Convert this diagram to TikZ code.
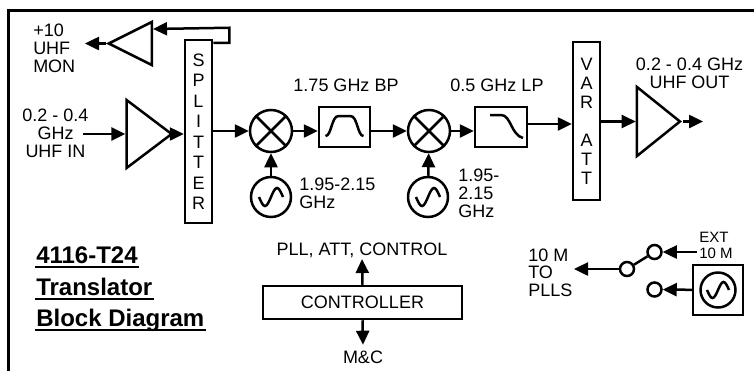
\documentclass[tikz,border=0pt]{standalone}
\usepackage{fontspec}
\setmainfont{Liberation Sans}
\usetikzlibrary{arrows.meta,shapes.geometric}

\begin{document}
\begin{tikzpicture}[x=1pt,y=-1pt,line width=2.5pt,
  >={Triangle[length=14pt,width=13pt]},
  txt/.style={inner sep=0pt,font=\fontsize{18}{18}\selectfont},
  blk/.style={draw,rectangle,inner sep=0pt},
  mixer/.style={draw,circle,minimum size=42pt,inner sep=0pt},
  lo/.style={draw,circle,minimum size=40pt,inner sep=0pt},
  port/.style={draw,circle,minimum size=14pt,inner sep=0pt},
  amp/.style={draw,isosceles triangle,isosceles triangle stretches,inner sep=0pt},
  heading/.style={inner sep=0pt,anchor=base west,font=\fontsize{24}{24}\selectfont\bfseries}]

  \useasboundingbox (0,0) rectangle (754,370);
  \draw[line width=3pt] (8,380) -- (8,10) -- (770,10);

  % input and monitor
  \node (ampin) at (143.5,134) [amp,minimum width=68pt,minimum height=45pt] {};
  \node[txt,align=center] (inlbl) at (55.5,133) {0.2 - 0.4\\GHz\\UHF IN};
  \coordinate (inarr) at (83,134);
  \node (split) at (198.5,131.5) [blk,minimum width=27pt,minimum height=183pt,align=center,font=\fontsize{18}{20.5}\selectfont] {S\\P\\L\\I\\T\\T\\E\\R};
  \node (ampmon) at (138.5,43.5) [amp,shape border rotate=180,minimum width=43pt,minimum height=43pt] {};
  \node[txt,align=left,anchor=west] (monlbl) at (32,48) {+10\\UHF\\MON};
  \coordinate (monout) at (85,43.5);

  % conversion chain
  \node (mix1) at (271,131) [mixer] {};
  \node (lo1) at (271,197) [lo] {};
  \node[txt,align=left,anchor=west] (lo1lbl) at (298,193.5) {1.95-2.15\\GHz};
  \node (bp) at (344.5,127) [blk,minimum width=51pt,minimum height=40pt] {};
  \node[txt] (bplbl) at (346,85) {1.75 GHz BP};
  \node (mix2) at (429,131) [mixer] {};
  \node (lo2) at (428,197) [lo] {};
  \node[txt,align=left,anchor=west] (lo2lbl) at (457,193.5) {1.95-\\2.15\\GHz};
  \node (lp) at (501,127) [blk,minimum width=52pt,minimum height=40pt] {};
  \node[txt] (lplbl) at (497,85) {0.5 GHz LP};
  \node (att) at (586.5,121) [blk,minimum width=27pt,minimum height=158pt,align=center,font=\fontsize{18}{19}\selectfont] {V\\A\\R\\[19pt]A\\T\\T};
  \node (ampout) at (653.5,121.5) [amp,minimum width=69pt,minimum height=43pt] {};
  \node[txt,align=center] (outlbl) at (689.5,73) {0.2 - 0.4 GHz\\UHF OUT};
  \coordinate (uhfout) at (703,121.5);

  \draw (mix1.north east) -- (mix1.south west) (mix1.north west) -- (mix1.south east);
  \draw (mix2.north east) -- (mix2.south west) (mix2.north west) -- (mix2.south east);
  \draw ([xshift=-12pt]lo1.center) sin ++(6pt,-9pt) cos ++(6pt,9pt) sin ++(6pt,9pt) cos ++(6pt,-9pt);
  \draw ([xshift=-12pt]lo2.center) sin ++(6pt,-9pt) cos ++(6pt,9pt) sin ++(6pt,9pt) cos ++(6pt,-9pt);
  \draw ([shift={(-19pt,-9pt)}]bp.center) .. controls ([shift={(-13pt,-9pt)}]bp.center) and ([shift={(-13pt,11pt)}]bp.center) .. ([shift={(-6pt,11pt)}]bp.center)
    -- ([shift={(6pt,11pt)}]bp.center) .. controls ([shift={(13pt,11pt)}]bp.center) and ([shift={(13pt,-9pt)}]bp.center) .. ([shift={(19pt,-9pt)}]bp.center);
  \draw ([shift={(-11pt,12pt)}]lp.center) -- ([shift={(0pt,12pt)}]lp.center) .. controls ([shift={(10pt,12pt)}]lp.center) and ([shift={(10pt,-8pt)}]lp.center) .. ([shift={(22pt,-11pt)}]lp.center);

  \draw[->] (inarr) -- (ampin);
  \draw[->] (ampin.apex) -- (ampin.apex -| split.west);
  \draw[->] ([yshift=-4pt]split.north east) -- ++(16,0) -- ++(0,-15) -- (ampmon.lower side |- 0,29);
  \draw[->] (ampmon.apex) -- (monout);
  \draw[->] (split.east |- mix1) -- (mix1);
  \draw[->] (mix1) -- (mix1 -| bp.west);
  \draw[->] (bp.east |- mix2) -- (mix2);
  \draw[->] (mix2) -- (mix2 -| lp.west);
  \draw[->] ([yshift=3pt]lp.east) -- ([yshift=3pt]lp.east -| att.west);
  \draw[->] (att.east |- ampout) -- (ampout);
  \draw[->] (ampout.apex) -- (uhfout);
  \draw[->] (lo1) -- (mix1);
  \draw[->] (lo2) -- (mix2);

  % title
  \node[heading] (t1) at (35,263.5) {4116-T24\ };
  \node[heading] (t2) at (35,295.5) {Translator\ };
  \node[heading] (t3) at (35,326.5) {Block Diagram};
  \foreach \t in {t1,t2,t3}
    \draw[line width=2pt] ([yshift=-3pt]\t.base west) -- ([yshift=-3pt]\t.base east);

  % controller
  \node (ctrl) at (362.5,302.5) [blk,txt,draw,minimum width=199pt,minimum height=33pt] {CONTROLLER};
  \node[txt,anchor=base] (pll) at (362,255.5) {PLL, ATT, CONTROL};
  \node[txt,anchor=base] (mc) at (363,363.5) {M\&C};
  \draw[->] (ctrl.north) -- (pll.south);
  \draw[->] (ctrl.south) -- ([yshift=5pt]mc.north);

  % 10 MHz reference switch
  \node (sw0) at (627,269) [port] {};
  \node (sw1) at (654.5,252) [port] {};
  \node (sw2) at (654.5,289.5) [port] {};
  \node (oscbox) at (718,290) [blk,minimum size=50pt] {};
  \node (osc) at (oscbox) [lo,minimum size=35pt] {};
  \draw ([xshift=-11pt]osc.center) sin ++(5.5pt,-8pt) cos ++(5.5pt,8pt) sin ++(5.5pt,8pt) cos ++(5.5pt,-8pt);
  \node[txt,align=left,anchor=west,font=\fontsize{18}{17.5}\selectfont] (plllbl) at (527,272.5) {10 M\\TO\\PLLS};
  \node[inner sep=0pt,align=left,anchor=west,font=\fontsize{15}{16}\selectfont] (extlbl) at (698,245) {EXT\\10 M};
  \coordinate (pllout) at (574,269);
  \coordinate (extin) at (697,252);
  \draw (sw0) -- (sw1);
  \draw[->] (sw0) -- (pllout);
  \draw[->] (extin) -- (sw1);
  \draw[->] (oscbox) -- (sw2);
\end{tikzpicture}
\end{document}
